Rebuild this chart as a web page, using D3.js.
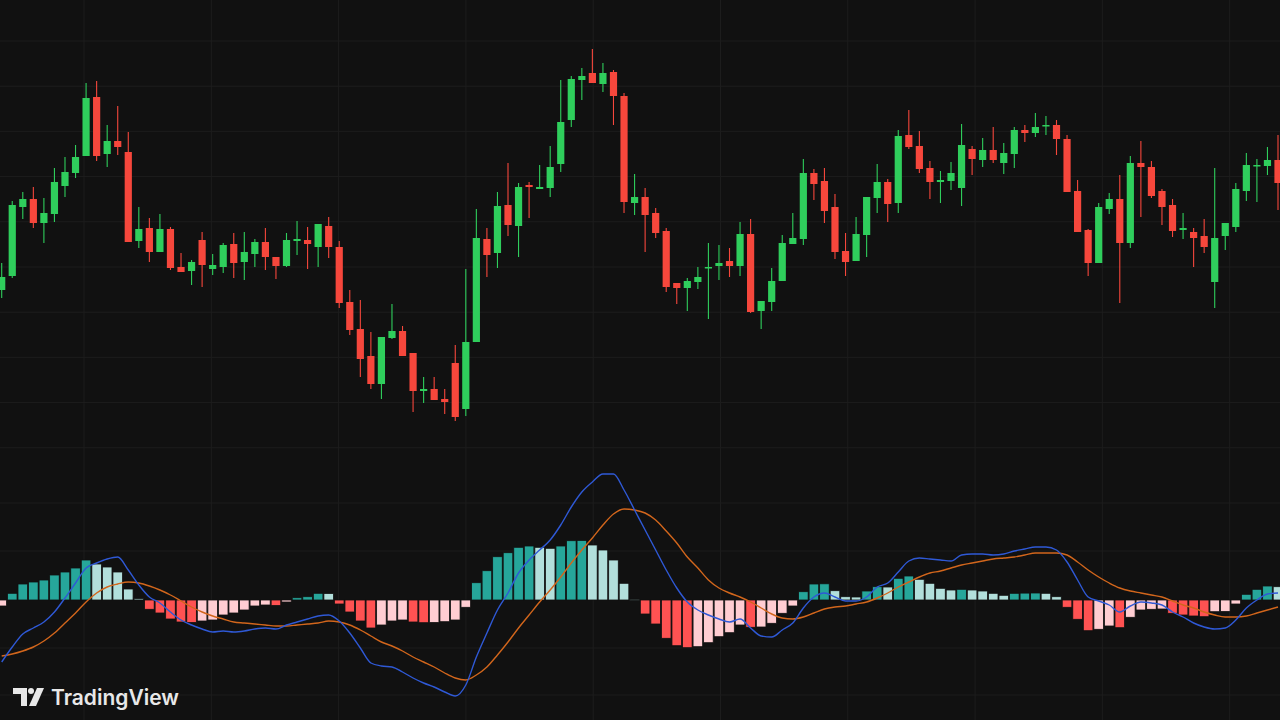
<!DOCTYPE html>
<html><head><meta charset="utf-8">
<script src="https://cdn.jsdelivr.net/npm/d3@7/dist/d3.min.js"></script>
<style>html,body{margin:0;padding:0;background:#111111;overflow:hidden}</style>
</head><body><svg id="c" width="1280" height="720"></svg>
<script>
// OHLC candles [open, high, low, close]
const candles = [
[210,237,202,223],[224,299,222,295],[293,308,281,301],[301,313,272,277],[277,302,257,287],
[286,332,278,318],[314,343,303,328],[327,355,322,343],[344,417,344,402],[403,419,339,344],
[346,375,333,359],[359,394,345,353],[348,368,258,258],[259,293,252,271],[272,282,238,248],
[248,286,248,271],[271,273,230,232],[233,247,228,228],[229,240,215,238],[260,268,213,235],
[231,246,225,235],[233,257,227,255],[256,267,222,237],[238,268,220,248],[246,261,233,258],
[258,272,230,243],[243,243,221,234],[234,267,233,260],[259,279,245,261],[260,273,231,256],
[253,276,233,276],[274,283,242,253],[253,259,192,197],[198,210,165,170],[171,200,123,141],
[144,168,111,116],[116,163,101,163],[162,196,161,169],[169,174,144,144],[147,147,88,109],
[109,123,97,111],[111,123,100,100],[101,111,86,98],[137,155,79,83],[91,231,84,158],
[158,291,158,262],[261,272,223,245],[247,308,232,294],[295,337,264,275],[274,317,243,313],
[315,318,282,313],[311,335,311,313],[312,354,303,333],[336,420,328,378],[380,424,373,421],
[420,432,400,424],[427,451,417,417],[416,437,408,427],[428,430,375,404],[404,407,287,298],
[297,326,285,303],[303,312,248,285],[287,292,262,267],[269,272,208,213],[217,217,196,212],
[212,222,189,219],[218,233,211,223],[232,257,181,233],[234,255,220,237],[239,252,223,234],
[234,278,224,266],[266,281,187,188],[189,199,171,199],[198,232,189,219],[219,265,219,257],
[256,287,256,262],[261,341,255,327],[327,331,300,316],[319,332,277,289],[293,306,241,248],
[249,267,224,238],[239,283,239,266],[265,303,243,303],[302,336,287,318],[318,321,278,296],
[297,370,287,364],[365,390,351,353],[354,369,327,331],[332,339,301,318],[318,329,297,320],
[319,338,310,327],[312,376,294,355],[351,354,325,341],[340,362,333,350],[350,373,337,340],
[337,357,326,347],[346,373,332,370],[370,375,358,367],[367,387,363,373],[374,384,365,375],
[375,380,345,361],[361,365,308,308],[309,320,268,268],[270,271,224,237],[237,297,237,293],
[291,307,286,301],[301,325,197,257],[257,344,252,337],[337,359,283,333],[333,339,302,304],
[309,311,275,293],[295,301,263,269],[270,287,261,272],[268,272,233,262],[264,281,247,253],
[218,332,192,262],[264,277,250,277],[273,317,268,311],[309,347,299,335],[334,341,298,335],
[334,353,325,340],[340,365,290,317]
];
const histogram = [
-6,6.7,16,18,20,25,28,32,40,36,33,28,11,1.3,-9.3,-13,-19,-22,-22.5,-21,
-20,-15,-13,-10,-6,-5,-5.5,-2,2.3,3.3,6.7,6.5,-4,-12,-21,-28,-25,-21,-20,-22,
-22.7,-22.5,-21.7,-20,-7.3,17.3,29.3,43.3,47.3,52.7,54,52.7,51.7,54,59.3,59.6,55,50,40,16.7,
0.7,-14,-24,-38.3,-45.7,-47.7,-46.7,-42.7,-36.7,-32.7,-25,-27.3,-27,-23.3,-13.3,-6,8.3,16,16.2,9.3,
3.3,3.0,9,13.3,13,21.7,24,20.7,16.7,11.7,10,10.7,10,9,6.7,4.7,6.7,6.9,7.0,6.7,
3.3,-7.3,-19.3,-30.7,-29.3,-26,-27.7,-17.3,-10,-9.3,-9.0,-13.3,-15,-16,-16.7,-11.7,-11.5,-4,5.7,10.7,
14,13.3
];
const macdLine = [
-62,-47,-34,-28,-22,-12,2,17,32,37,41,43,30,15,3,-3,-12,-20,-25,-29,
-32,-31,-32,-31,-29,-28,-29,-25,-22,-19,-16,-15,-21,-33,-48,-63,-66,-67,-72,-78,
-83,-87,-92,-96,-85,-57,-33,-10,7,27,40,50,60,75,93,108,118,126,126,110,
90,70,50,30,12,-2,-10,-15,-19,-22,-19,-28,-36,-37,-30,-23,-8,3,7,3,
-1,-1,3,13,17,28,39,42,41,40,39,45,46,46,45,46,49,51,53,53,
50,38,20,3,-1,-5,-12,-6,-2,-3,-5,-12,-17,-23,-27,-29,-28,-20,-8,0,
6,7
];
const signalLine = [
-56,-54,-51,-47,-41,-33,-23,-13,-2,7,13,16,18,17,14,10,5,-1,-7,-12,
-16,-19,-22,-23,-24,-25,-26,-26,-25,-24,-23,-21,-22,-25,-30,-36,-42,-46,-51,-57,
-62,-67,-73,-78,-80,-75,-67,-55,-42,-28,-15,-2,10,23,37,50,62,75,86,91,
90,87,80,69,57,43,32,20,12,7,3,-2,-8,-14,-18,-19,-17,-13,-9,-7,
-6,-4,-2,2,7,13,18,23,27,29,32,35,37,39,41,42,43,45,47,47,
47,45,38,30,23,17,12,9,7,5,3,-1,-5,-8,-12,-15,-17,-17,-16,-13,
-10,-7
];
const brand = "TradingView";

const svg = d3.select("#c");
const W = 1280, H = 720;
svg.append("rect").attr("width",W).attr("height",H).attr("fill","#111111");

const x = d3.scaleLinear().domain([0, candles.length-1]).range([1.7, 1278]);
const yP = d3.scaleLinear().domain([50, 500]).range([450, 0]);
const yM = d3.scaleLinear().domain([-120, 140]).range([720, 460]);

// grid
const grid = svg.append("g").attr("stroke","#1d1d1d").attr("stroke-width",1);
d3.range(84, W, 127.3).forEach(v=>grid.append("line").attr("x1",v).attr("x2",v).attr("y1",0).attr("y2",H));
d3.range(41, 450, 45.2).forEach(v=>grid.append("line").attr("x1",0).attr("x2",W).attr("y1",v).attr("y2",v));
[503,551,648,695].forEach(v=>grid.append("line").attr("x1",0).attr("x2",W).attr("y1",v).attr("y2",v));

// candles
const GREEN="#2fce5c", RED="#f6473c";
const cg = svg.append("g");
candles.forEach((d,i)=>{
  const [o,h,l,c]=d; const col = c>=o?GREEN:RED; const cx=x(i);
  cg.append("line").attr("x1",cx).attr("x2",cx).attr("y1",yP(h)).attr("y2",yP(l)).attr("stroke",col).attr("stroke-width",1.1);
  const top=yP(Math.max(o,c)), bot=yP(Math.min(o,c));
  cg.append("rect").attr("x",cx-3.6).attr("width",7.2).attr("y",top).attr("height",Math.max(1.5,bot-top)).attr("fill",col);
});

// histogram
const hg = svg.append("g");
histogram.forEach((v,i)=>{
  const p = i>0?histogram[i-1]:v;
  let col;
  if (v>=0) col = v>=p ? "#26a69a" : "#b2dfdb";
  else col = v<p ? "#ff5252" : "#ffcdd2";
  const y0=yM(0), y1=yM(v);
  hg.append("rect").attr("x",x(i)-4.8).attr("width",9.6).attr("y",Math.min(y0,y1)).attr("height",Math.max(1,Math.abs(y1-y0)))
    .attr("fill",col).attr("stroke","#111111").attr("stroke-width",0.8);
});

const line = d3.line().x((d,i)=>x(i)).y(d=>yM(d)).curve(d3.curveMonotoneX);
svg.append("path").datum(signalLine).attr("d",line).attr("fill","none").attr("stroke","#d2661c").attr("stroke-width",1.4);
svg.append("path").datum(macdLine).attr("d",line).attr("fill","none").attr("stroke","#2f59d6").attr("stroke-width",1.4);

// logo
const lg = svg.append("g").attr("fill","#e8e8e8");
lg.append("path").attr("d","M13,688 H27 V706 H21 V694 H13 Z");
lg.append("circle").attr("cx",31).attr("cy",691).attr("r",3);
lg.append("path").attr("d","M37,688 H44 L36,706 H29 Z");
lg.append("text").attr("x",51).attr("y",705).attr("font-family","Inter, 'Open Sans', sans-serif")
  .attr("font-weight",600).attr("font-size",21).attr("fill","#e8e8e8").text(brand);
</script></body></html>
